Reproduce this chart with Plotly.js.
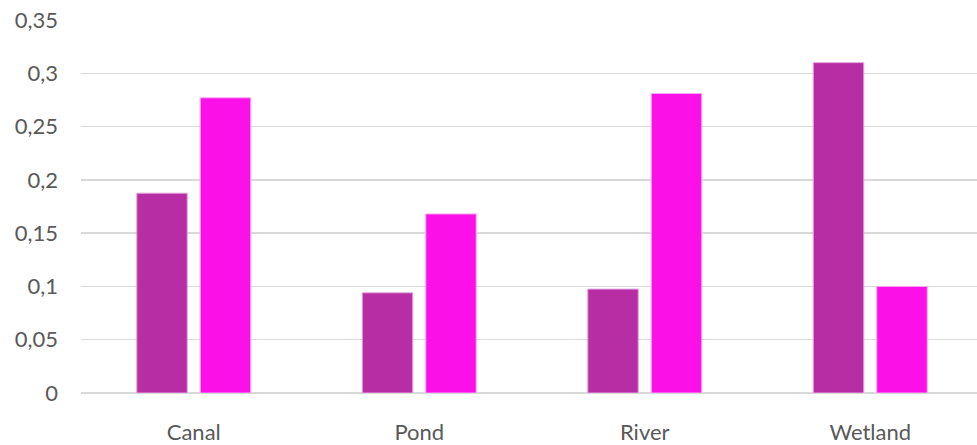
<!DOCTYPE html>
<html><head><meta charset="utf-8">
<script src="https://cdn.plot.ly/plotly-3.0.1.min.js"></script>
<style>html,body{margin:0;padding:0;overflow:hidden;background:#fff}</style>
</head><body><div id="chart"></div>
<script>
const categories = ["Canal", "Pond", "River", "Wetland"];
const seriesA = [0.1875, 0.094, 0.0975, 0.310];
const seriesB = [0.277, 0.168, 0.281, 0.100];
const yTicks = [0, 0.05, 0.1, 0.15, 0.2, 0.25, 0.3, 0.35];

const traces = [
  {type:"bar", x:categories, y:seriesA, name:"A",
   marker:{color:"#B72EA4", line:{color:"#E7A2DE", width:1}}},
  {type:"bar", x:categories, y:seriesB, name:"B",
   marker:{color:"#FC10E8", line:{color:"#F9A6F1", width:1}}}
];
const layout = {
  width: 985, height: 445,
  margin:{l:81, r:2, t:20, b:52},
  separators: ", ",
  showlegend:false,
  barmode:"group", bargap:0.437, bargroupgap:0.205,
  plot_bgcolor:"#fff", paper_bgcolor:"#fff",
  font:{family:"Lato, Open Sans, sans-serif", color:"#595959", size:22},
  xaxis:{showgrid:false, zeroline:false, showline:false, ticks:"",
         ticklabelstandoff:24, tickfont:{size:22, color:"#595959"}},
  yaxis:{range:[0,0.35], tickvals:yTicks, showgrid:true, gridcolor:"#D9D9D9", gridwidth:1.3,
         zeroline:true, zerolinecolor:"#D9D9D9", zerolinewidth:1.3, showline:false,
         ticklabelstandoff:22, tickfont:{size:22, color:"#595959"}}
};
Plotly.newPlot("chart", traces, layout, {displayModeBar:false, staticPlot:true});
</script></body></html>
